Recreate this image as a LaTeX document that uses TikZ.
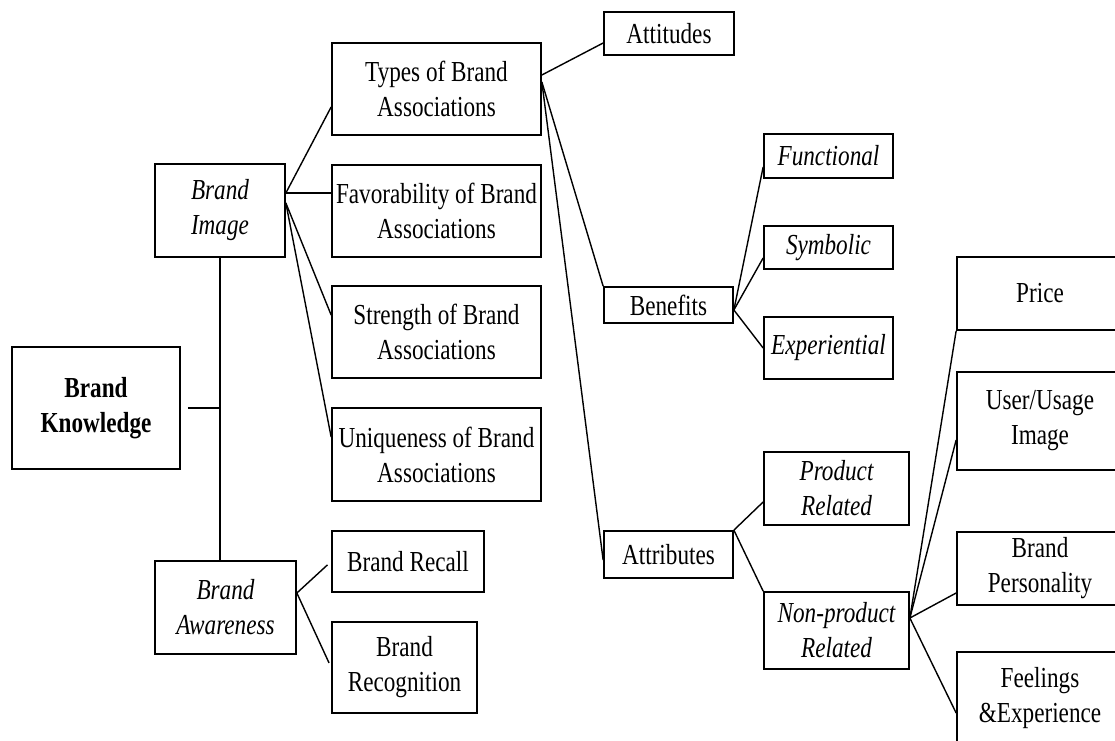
\documentclass[tikz,border=0pt]{standalone}
\usepackage{fontspec}
\setmainfont{Liberation Serif}[FakeStretch=0.8]
\begin{document}
\begin{tikzpicture}[x=0.02cm, y=-0.02cm,
    box/.style={draw, rectangle, line width=1pt, inner sep=0pt, align=center, font=\fontsize{16.5}{19.9}\selectfont},
    link/.style={line width=0.8pt}]
        \useasboundingbox (0,0) rectangle (1115,740);

        \node[box, minimum width=3.36cm, minimum height=2.44cm, font=\fontsize{16.5}{19.9}\selectfont\bfseries] (bk) at (96,408) {Brand\\Knowledge};
        \node[box, minimum width=2.6cm, minimum height=1.86cm, font=\fontsize{16.5}{19.9}\selectfont\itshape] (bi) at (220,210.5) {Brand\\Image};
        \node[box, minimum width=2.82cm, minimum height=1.86cm, font=\fontsize{16.5}{19.9}\selectfont\itshape] (ba) at (225.5,607.5) {Brand\\Awareness};

        \node[box, minimum width=4.18cm, minimum height=1.84cm] (types) at (436.5,89) {Types of Brand\\Associations};
        \node[box, minimum width=4.18cm, minimum height=1.84cm] (fav) at (436.5,211) {Favorability of Brand\\Associations};
        \node[box, minimum width=4.18cm, minimum height=1.84cm] (strength) at (436.5,332) {Strength of Brand\\Associations};
        \node[box, minimum width=4.18cm, minimum height=1.86cm] (uniq) at (436.5,454.5) {Uniqueness of Brand\\Associations};
        \node[box, minimum width=3.04cm, minimum height=1.22cm] (recall) at (408,561.5) {Brand Recall};
        \node[box, minimum width=2.9cm, minimum height=1.82cm] (recog) at (404.5,667.5) {Brand\\Recognition};

        \node[box, minimum width=2.6cm, minimum height=0.86cm] (att) at (669,33.5) {Attitudes};
        \node[box, minimum width=2.58cm, minimum height=0.72cm] (ben) at (668.5,305) {Benefits};
        \node[box, minimum width=2.58cm, minimum height=0.94cm] (attr) at (668.5,554.5) {Attributes};

        \node[box, minimum width=2.58cm, minimum height=0.88cm, font=\fontsize{16.5}{19.9}\selectfont\itshape] (func) at (828.5,156) {Functional};
        \node[box, minimum width=2.58cm, minimum height=0.86cm, font=\fontsize{16.5}{19.9}\selectfont\itshape] (sym) at (828.5,247.5) {Symbolic};
        \node[box, minimum width=2.58cm, minimum height=1.24cm, font=\fontsize{16.5}{19.9}\selectfont\itshape] (exp) at (828.5,348) {Experiential};
        \node[box, minimum width=2.9cm, minimum height=1.46cm, font=\fontsize{16.5}{19.9}\selectfont\itshape] (prod) at (836.5,488.5) {Product\\Related};
        \node[box, minimum width=2.9cm, minimum height=1.54cm, font=\fontsize{16.5}{19.9}\selectfont\itshape] (nonprod) at (836.5,630.5) {Non-product\\Related};

        \node[box, minimum width=3.32cm, minimum height=1.46cm] (price) at (1040,293.5) {Price};
        \node[box, minimum width=3.32cm, minimum height=1.96cm] (user) at (1040,421) {User/Usage\\Image};
        \node[box, minimum width=3.32cm, minimum height=1.46cm] (pers) at (1040,568.5) {Brand\\Personality};
        \node[box, minimum width=3.32cm, minimum height=1.86cm] (feel) at (1040,698.5) {Feelings\\\&Experience};

        \draw[link] (bi.south) -- (bi.south |- ba.north);
        \draw[link, shorten <=0.14cm] (bk.east) -- (bk.east -| bi.south);

        \coordinate (biout) at ([yshift=0.35cm]bi.east);
        \draw[link] (biout) -- ([yshift=-0.36cm]types.west);
        \draw[link] (biout) -- (biout -| fav.west);
        \draw[link] ([yshift=0.15cm]bi.east) -- ([yshift=0.34cm]strength.west);
        \draw[link] ([yshift=0.15cm]bi.east) -- ([yshift=0.35cm]uniq.west);

        \coordinate (baout) at ([yshift=0.29cm]ba.east);
        \draw[link, shorten >=0.1cm] (baout) -- (recall.west);
        \draw[link, shorten >=0.1cm] (baout) -- (recog.west);

        \draw[link] ([yshift=0.28cm]types.east) -- ([yshift=-0.19cm]att.west);
        \draw[link] ([yshift=0.14cm]types.east) -- (ben.north west);
        \draw[link] ([yshift=0.14cm]types.east) -- ([yshift=-0.11cm]attr.west);

        \coordinate (benout) at ([yshift=-0.1cm]ben.east);
        \draw[link] (benout) -- ([yshift=-0.22cm]func.west);
        \draw[link] (benout) -- ([yshift=-0.21cm]sym.west);
        \draw[link] (benout) -- (exp.west);

        \draw[link] (attr.north east) -- ([yshift=-0.27cm]prod.west);
        \draw[link] (attr.north east) -- (nonprod.north west);

        \coordinate (npout) at ([yshift=0.25cm]nonprod.east);
        \draw[link] (npout) -- (price.south west);
        \draw[link] (npout) -- ([yshift=-0.38cm]user.west);
        \draw[link] (npout) -- ([yshift=-0.49cm]pers.west);
        \draw[link] (npout) -- ([yshift=-0.29cm]feel.west);
    \end{tikzpicture}
\end{document}
